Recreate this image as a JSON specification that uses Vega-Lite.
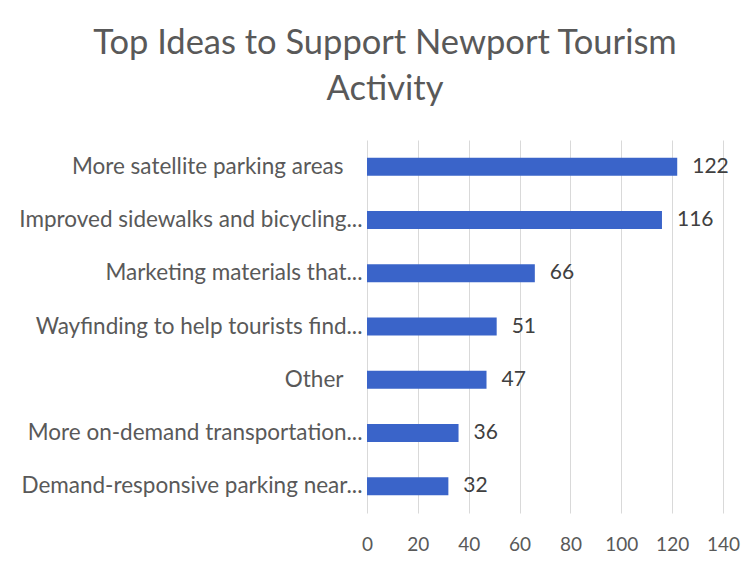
{
  "$schema": "https://vega.github.io/schema/vega-lite/v6.json",
  "autosize": {"type": "none"},
  "width": 356,
  "height": 373,
  "padding": {"left": 367, "top": 140, "right": 32, "bottom": 51},
  "background": "white",
  "title": {
    "text": ["Top Ideas to Support Newport Tourism", "Activity"],
    "frame": "group",
    "anchor": "middle",
    "dx": -160,
    "offset": 33,
    "font": "Lato",
    "fontSize": 34.5,
    "fontWeight": "normal",
    "color": "#595959",
    "lineHeight": 46
  },
  "data": {
    "values": [
      {"idea": "More satellite parking areas", "count": 122},
      {"idea": "Improved sidewalks and bicycling...", "count": 116},
      {"idea": "Marketing materials that...", "count": 66},
      {"idea": "Wayfinding to help tourists find...", "count": 51},
      {"idea": "Other", "count": 47},
      {"idea": "More on-demand transportation...", "count": 36},
      {"idea": "Demand-responsive parking near...", "count": 32}
    ]
  },
  "encoding": {
    "y": {
      "field": "idea",
      "type": "nominal",
      "sort": {"field": "count", "order": "descending"},
      "axis": {
        "title": null,
        "domain": false,
        "ticks": false,
        "labelPadding": {"condition": {"test": "indexof(datum.value, '...') < 0", "value": 24}, "value": 5},
        "labelFont": "Lato",
        "labelFontSize": 22.5,
        "labelColor": "#595959",
        "labelLimit": 400
      }
    },
    "x": {
      "field": "count",
      "type": "quantitative",
      "scale": {"domain": [0, 140]},
      "axis": {
        "title": null,
        "domain": false,
        "ticks": false,
        "values": [0, 20, 40, 60, 80, 100, 120, 140],
        "labelPadding": 22,
        "labelFont": "Lato",
        "labelFontSize": 19,
        "labelColor": "#595959",
        "gridColor": "#d9d9d9",
        "labelFlush": false
      }
    }
  },
  "layer": [
    {"mark": {"type": "bar", "size": 18, "color": "#3a64c9"}},
    {
      "mark": {"type": "text", "align": "left", "baseline": "middle", "dx": 15, "font": "Lato", "fontSize": 21, "color": "#404040"},
      "encoding": {"text": {"field": "count", "type": "quantitative"}}
    }
  ],
  "config": {"view": {"stroke": null}}
}
